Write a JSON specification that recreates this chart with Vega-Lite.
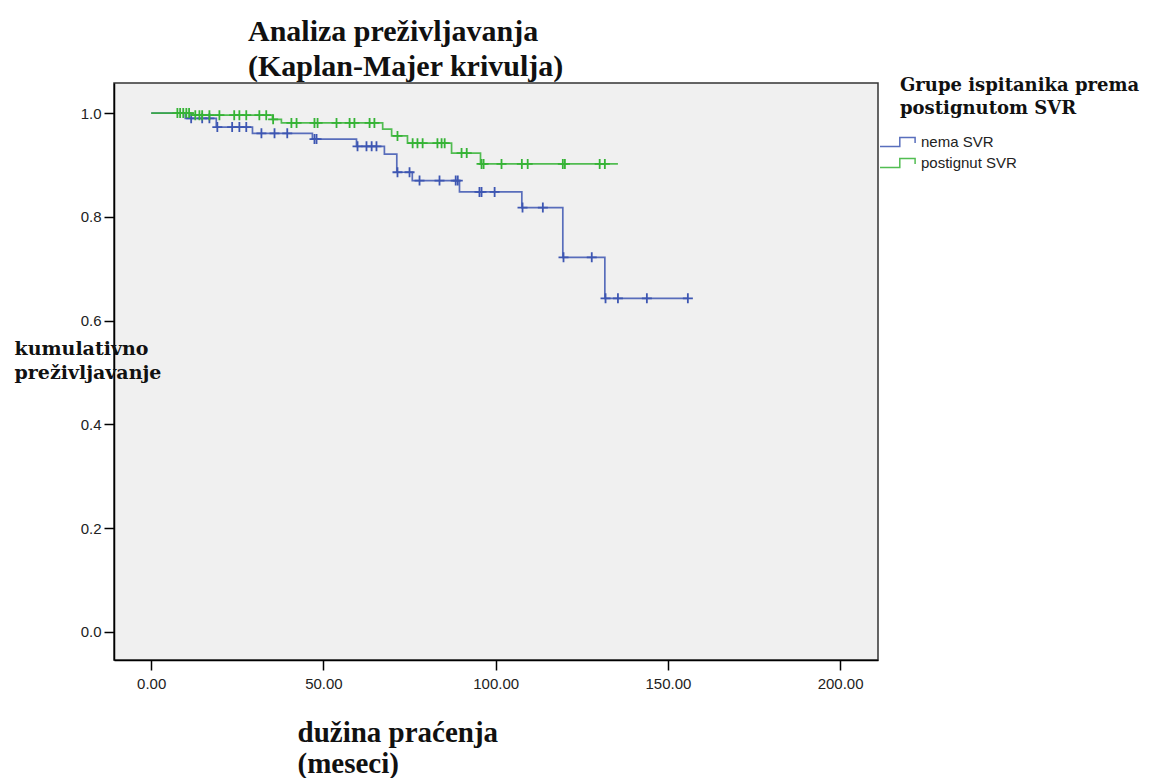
{
  "$schema": "https://vega.github.io/schema/vega-lite/v6.json",
  "width": 764,
  "height": 577,
  "autosize": {"type": "none"},
  "padding": {"left": 114, "top": 83, "right": 273, "bottom": 118},
  "background": "#ffffff",
  "title": {
    "text": ["Analiza preživljavanja", "(Kaplan-Majer krivulja)"],
    "anchor": "start",
    "frame": "group",
    "dx": 134,
    "offset": -5,
    "font": "Liberation Serif",
    "fontSize": 30,
    "fontWeight": "bold",
    "lineHeight": 35,
    "color": "#111111",
    "limit": 600
  },
  "config": {
    "view": {"fill": "#f0f0f0", "stroke": "#333333", "strokeWidth": 1.5},
    "axis": {
      "grid": false,
      "domainColor": "#000000",
      "domainWidth": 1.5,
      "tickColor": "#000000",
      "tickWidth": 1.5,
      "tickSize": 10,
      "labelFont": "Liberation Sans",
      "labelFontSize": 15,
      "labelColor": "#222222"
    }
  },
  "data": {
    "values": [
      {"g": "nema SVR", "t": 0, "s": 1.0, "c": 0},
      {"g": "nema SVR", "t": 9.9, "s": 0.990, "c": 0},
      {"g": "nema SVR", "t": 18.9, "s": 0.973, "c": 0},
      {"g": "nema SVR", "t": 29.4, "s": 0.961, "c": 0},
      {"g": "nema SVR", "t": 46.8, "s": 0.950, "c": 0},
      {"g": "nema SVR", "t": 59.6, "s": 0.936, "c": 0},
      {"g": "nema SVR", "t": 67.7, "s": 0.921, "c": 0},
      {"g": "nema SVR", "t": 71.3, "s": 0.886, "c": 0},
      {"g": "nema SVR", "t": 75.8, "s": 0.870, "c": 0},
      {"g": "nema SVR", "t": 89.5, "s": 0.848, "c": 0},
      {"g": "nema SVR", "t": 107.6, "s": 0.818, "c": 0},
      {"g": "nema SVR", "t": 119.5, "s": 0.722, "c": 0},
      {"g": "nema SVR", "t": 131.7, "s": 0.643, "c": 0},
      {"g": "nema SVR", "t": 155.8, "s": 0.643, "c": 0},
      {"g": "nema SVR", "t": 11.6, "s": 0.990, "c": 1},
      {"g": "nema SVR", "t": 14.8, "s": 0.990, "c": 1},
      {"g": "nema SVR", "t": 16.9, "s": 0.990, "c": 1},
      {"g": "nema SVR", "t": 19.2, "s": 0.973, "c": 1},
      {"g": "nema SVR", "t": 23.5, "s": 0.973, "c": 1},
      {"g": "nema SVR", "t": 25.6, "s": 0.973, "c": 1},
      {"g": "nema SVR", "t": 27.6, "s": 0.973, "c": 1},
      {"g": "nema SVR", "t": 32.0, "s": 0.961, "c": 1},
      {"g": "nema SVR", "t": 35.8, "s": 0.961, "c": 1},
      {"g": "nema SVR", "t": 39.5, "s": 0.961, "c": 1},
      {"g": "nema SVR", "t": 47.4, "s": 0.950, "c": 1},
      {"g": "nema SVR", "t": 48.0, "s": 0.950, "c": 1},
      {"g": "nema SVR", "t": 59.9, "s": 0.936, "c": 1},
      {"g": "nema SVR", "t": 62.5, "s": 0.936, "c": 1},
      {"g": "nema SVR", "t": 64.0, "s": 0.936, "c": 1},
      {"g": "nema SVR", "t": 65.4, "s": 0.936, "c": 1},
      {"g": "nema SVR", "t": 71.5, "s": 0.886, "c": 1},
      {"g": "nema SVR", "t": 75.0, "s": 0.886, "c": 1},
      {"g": "nema SVR", "t": 77.9, "s": 0.870, "c": 1},
      {"g": "nema SVR", "t": 83.7, "s": 0.870, "c": 1},
      {"g": "nema SVR", "t": 88.4, "s": 0.870, "c": 1},
      {"g": "nema SVR", "t": 89.0, "s": 0.870, "c": 1},
      {"g": "nema SVR", "t": 95.3, "s": 0.848, "c": 1},
      {"g": "nema SVR", "t": 95.9, "s": 0.848, "c": 1},
      {"g": "nema SVR", "t": 99.7, "s": 0.848, "c": 1},
      {"g": "nema SVR", "t": 107.8, "s": 0.818, "c": 1},
      {"g": "nema SVR", "t": 113.7, "s": 0.818, "c": 1},
      {"g": "nema SVR", "t": 119.7, "s": 0.722, "c": 1},
      {"g": "nema SVR", "t": 127.9, "s": 0.722, "c": 1},
      {"g": "nema SVR", "t": 131.9, "s": 0.643, "c": 1},
      {"g": "nema SVR", "t": 135.5, "s": 0.643, "c": 1},
      {"g": "nema SVR", "t": 143.9, "s": 0.643, "c": 1},
      {"g": "nema SVR", "t": 155.8, "s": 0.643, "c": 1},
      {"g": "postignut SVR", "t": 0, "s": 1.0, "c": 0},
      {"g": "postignut SVR", "t": 12.0, "s": 0.996, "c": 0},
      {"g": "postignut SVR", "t": 35.2, "s": 0.988, "c": 0},
      {"g": "postignut SVR", "t": 37.8, "s": 0.981, "c": 0},
      {"g": "postignut SVR", "t": 67.2, "s": 0.969, "c": 0},
      {"g": "postignut SVR", "t": 69.8, "s": 0.956, "c": 0},
      {"g": "postignut SVR", "t": 74.4, "s": 0.942, "c": 0},
      {"g": "postignut SVR", "t": 87.2, "s": 0.923, "c": 0},
      {"g": "postignut SVR", "t": 95.6, "s": 0.902, "c": 0},
      {"g": "postignut SVR", "t": 135.5, "s": 0.902, "c": 0},
      {"g": "postignut SVR", "t": 7.6, "s": 1.0, "c": 1},
      {"g": "postignut SVR", "t": 8.4, "s": 1.0, "c": 1},
      {"g": "postignut SVR", "t": 9.3, "s": 1.0, "c": 1},
      {"g": "postignut SVR", "t": 10.2, "s": 1.0, "c": 1},
      {"g": "postignut SVR", "t": 11.0, "s": 1.0, "c": 1},
      {"g": "postignut SVR", "t": 12.8, "s": 0.996, "c": 1},
      {"g": "postignut SVR", "t": 14.0, "s": 0.996, "c": 1},
      {"g": "postignut SVR", "t": 14.8, "s": 0.996, "c": 1},
      {"g": "postignut SVR", "t": 16.9, "s": 0.996, "c": 1},
      {"g": "postignut SVR", "t": 19.8, "s": 0.996, "c": 1},
      {"g": "postignut SVR", "t": 24.1, "s": 0.996, "c": 1},
      {"g": "postignut SVR", "t": 25.6, "s": 0.996, "c": 1},
      {"g": "postignut SVR", "t": 27.6, "s": 0.996, "c": 1},
      {"g": "postignut SVR", "t": 31.4, "s": 0.996, "c": 1},
      {"g": "postignut SVR", "t": 33.4, "s": 0.996, "c": 1},
      {"g": "postignut SVR", "t": 35.4, "s": 0.988, "c": 1},
      {"g": "postignut SVR", "t": 40.7, "s": 0.981, "c": 1},
      {"g": "postignut SVR", "t": 42.2, "s": 0.981, "c": 1},
      {"g": "postignut SVR", "t": 47.4, "s": 0.981, "c": 1},
      {"g": "postignut SVR", "t": 48.3, "s": 0.981, "c": 1},
      {"g": "postignut SVR", "t": 53.8, "s": 0.981, "c": 1},
      {"g": "postignut SVR", "t": 57.6, "s": 0.981, "c": 1},
      {"g": "postignut SVR", "t": 59.0, "s": 0.981, "c": 1},
      {"g": "postignut SVR", "t": 63.4, "s": 0.981, "c": 1},
      {"g": "postignut SVR", "t": 64.8, "s": 0.981, "c": 1},
      {"g": "postignut SVR", "t": 71.5, "s": 0.956, "c": 1},
      {"g": "postignut SVR", "t": 75.9, "s": 0.942, "c": 1},
      {"g": "postignut SVR", "t": 77.3, "s": 0.942, "c": 1},
      {"g": "postignut SVR", "t": 78.8, "s": 0.942, "c": 1},
      {"g": "postignut SVR", "t": 83.1, "s": 0.942, "c": 1},
      {"g": "postignut SVR", "t": 84.3, "s": 0.942, "c": 1},
      {"g": "postignut SVR", "t": 85.2, "s": 0.942, "c": 1},
      {"g": "postignut SVR", "t": 90.1, "s": 0.923, "c": 1},
      {"g": "postignut SVR", "t": 91.6, "s": 0.923, "c": 1},
      {"g": "postignut SVR", "t": 95.9, "s": 0.902, "c": 1},
      {"g": "postignut SVR", "t": 96.5, "s": 0.902, "c": 1},
      {"g": "postignut SVR", "t": 101.7, "s": 0.902, "c": 1},
      {"g": "postignut SVR", "t": 107.6, "s": 0.902, "c": 1},
      {"g": "postignut SVR", "t": 109.3, "s": 0.902, "c": 1},
      {"g": "postignut SVR", "t": 119.5, "s": 0.902, "c": 1},
      {"g": "postignut SVR", "t": 120.1, "s": 0.902, "c": 1},
      {"g": "postignut SVR", "t": 130.2, "s": 0.902, "c": 1},
      {"g": "postignut SVR", "t": 131.7, "s": 0.902, "c": 1}
    ]
  },
  "encoding": {
    "x": {
      "field": "t",
      "type": "quantitative",
      "scale": {"domain": [-10.8, 211], "nice": false, "zero": false},
      "axis": {
        "values": [0, 50, 100, 150, 200],
        "format": ".2f",
        "labelPadding": 6,
        "title": ["dužina praćenja", "(meseci)"],
        "titleFont": "Liberation Serif",
        "titleFontSize": 29,
        "titleFontWeight": "bold",
        "titleColor": "#111111",
        "titleLineHeight": 31,
        "titleAnchor": null,
        "titleAlign": "left",
        "titleBaseline": "alphabetic",
        "titleX": 183,
        "titleY": 81
      }
    },
    "y": {
      "field": "s",
      "type": "quantitative",
      "scale": {"domain": [-0.054, 1.058], "nice": false, "zero": false},
      "axis": {
        "values": [0, 0.2, 0.4, 0.6, 0.8, 1.0],
        "format": ".1f",
        "labelPadding": 3,
        "title": ["kumulativno", "preživljavanje"],
        "titleFont": "DejaVu Serif",
        "titleFontSize": 19,
        "titleFontWeight": "bold",
        "titleColor": "#111111",
        "titleLineHeight": 24,
        "titleAngle": 0,
        "titleAnchor": null,
        "titleAlign": "left",
        "titleBaseline": "alphabetic",
        "titleX": -100,
        "titleY": 271,
        "titleLimit": 300
      }
    },
    "color": {
      "field": "g",
      "type": "nominal",
      "scale": {"domain": ["nema SVR", "postignut SVR"], "range": ["#3d56b2", "#35b335"]},
      "legend": {
        "orient": "none",
        "legendX": 786,
        "legendY": -6,
        "title": ["Grupe ispitanika prema", "postignutom SVR"],
        "titleFont": "DejaVu Serif",
        "titleFontSize": 18,
        "titleFontWeight": "bold",
        "titleColor": "#111111",
        "titleLineHeight": 23,
        "titlePadding": 14,
        "titleLimit": 400,
        "labelFont": "Liberation Sans",
        "labelFontSize": 15,
        "labelColor": "#222222",
        "symbolType": "M-2,0.5L0.2,0.5L0.2,-0.5L1.9,-0.5L1.9,0.1",
        "symbolSize": 324,
        "symbolStrokeWidth": 1.5,
        "symbolFillColor": "transparent",
        "symbolOffset": -12,
        "labelOffset": 13,
        "rowPadding": 3
      }
    }
  },
  "layer": [
    {
      "transform": [{"filter": "datum.c == 0"}],
      "mark": {"type": "line", "interpolate": "step-after", "strokeWidth": 1.7, "opacity": 0.85},
      "encoding": {"order": {"field": "t", "type": "quantitative"}}
    },
    {
      "transform": [{"filter": "datum.c == 1"}],
      "mark": {"type": "point", "shape": "M-1,0L1,0M0,-1L0,1", "filled": false, "size": 100, "strokeWidth": 1.8, "opacity": 1}
    }
  ]
}
